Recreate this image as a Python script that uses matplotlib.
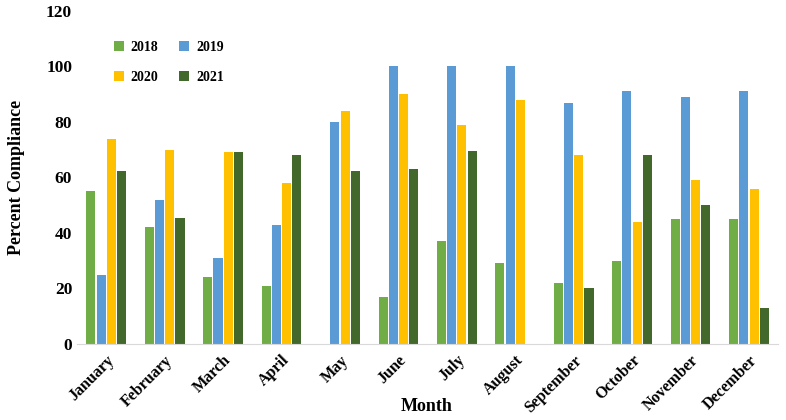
import numpy as np
import matplotlib.pyplot as plt

months = ['January', 'February', 'March', 'April', 'May', 'June', 'July',
          'August', 'September', 'October', 'November', 'December']
years = ['2018', '2019', '2020', '2021']
v2018 = [55, 42, 24, 21, 0, 17, 37, 29, 22, 30, 45, 45]
v2019 = [25, 52, 31, 43, 80, 100, 100, 100, 87, 91, 89, 91]
v2020 = [74, 70, 69, 58, 84, 90, 79, 88, 68, 44, 59, 56]
v2021 = [62.5, 45.5, 69, 68, 62.5, 63, 69.5, 0, 20, 68, 50, 13]
colors = ['#70AD47', '#5B9BD5', '#FFC000', '#43682B']

plt.rcParams['font.family'] = ['Liberation Serif', 'DejaVu Serif']
plt.rcParams['font.weight'] = 'bold'

fig = plt.figure(figsize=(7.86, 4.2), dpi=100)
ax = fig.add_axes([0.098, 0.181, 0.892, 0.793])

x = np.arange(len(months))
w = 0.155
series = [v2018, v2019, v2020, v2021]
bars = []
for i, (vals, c, lab) in enumerate(zip(series, colors, years)):
    bars.append(ax.bar(x + (i - 1.5) * (w + 0.02), vals, width=w, color=c, label=lab))

ax.set_xlim(-0.5, 11.5)
ax.set_ylim(0, 120)
ax.set_yticks(range(0, 121, 20))
ax.set_xticks(x)
ax.set_xticklabels(months, rotation=45, ha='right', rotation_mode='anchor')
ax.tick_params(axis='both', length=0, labelsize=12.5)
ax.tick_params(axis='x', pad=6, labelsize=11.5)
for s in ['top', 'right', 'left']:
    ax.spines[s].set_visible(False)
ax.spines['bottom'].set_color('#d9d9d9')

ax.set_ylabel('Percent Compliance', fontsize=13, fontweight='bold', labelpad=15)
fig.text(0.543, 0.033, 'Month', fontsize=13, fontweight='bold', ha='center', va='center')

# row-wise legend order: 2018 2019 / 2020 2021
order = [0, 2, 1, 3]
ax.legend([bars[k] for k in order], [years[k] for k in order], ncol=2,
          loc='upper left', bbox_to_anchor=(0.035, 0.948), frameon=False,
          fontsize=10, handlelength=0.7, handleheight=0.7, handletextpad=0.5,
          labelspacing=1.25, columnspacing=1.5)

fig.savefig('out.png', dpi=100)
